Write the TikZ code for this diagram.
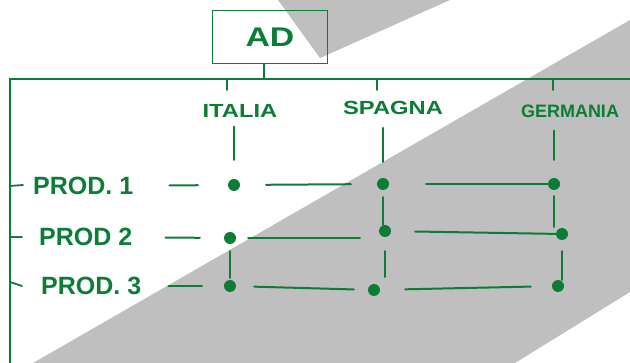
\documentclass[tikz,border=0pt]{standalone}
\usepackage{fontspec}
\setsansfont{Liberation Sans}
\newfontfamily\handfont[FakeStretch=1.25]{Liberation Sans}
\definecolor{marker}{RGB}{12,125,55}
\definecolor{sheetgray}{RGB}{191,191,191}

\begin{document}
\begin{tikzpicture}[x=1pt,y=-1pt,
   pen/.style={draw=marker,line width=1.8pt,line cap=round},
   link/.style={pen,line width=2pt},
   title/.style={draw=marker,line width=1.6pt,minimum width=115pt,minimum height=53pt,inner sep=0pt,text=marker,font=\handfont\bfseries\fontsize{27}{27}\selectfont},
   country/.style={text=marker,inner sep=1pt,font=\handfont\bfseries\fontsize{19}{19}\selectfont},
   prod/.style={text=marker,inner sep=1pt,anchor=west,font=\sffamily\bfseries\fontsize{25}{25}\selectfont},
   dot/.style={circle,fill=marker,inner sep=0pt,minimum size=12pt}]
\useasboundingbox (0,0) rectangle (630,363);
% shadow on the sheet
\fill[sheetgray] (278,0) -- (450,0) -- (320,58) -- cycle;
\fill[sheetgray] (630,20) -- (630,292) -- (515,363) -- (33,363) -- cycle;
% head box and bar
\node[title] (ad) at (270,37) {AD};
\coordinate (bar) at (10,79);
\coordinate (barend) at (630,79);
\coordinate (base) at (10,363);
\draw[pen,line width=1.6pt] (base) -- (bar) -- (barend);
\draw[pen] ([xshift=-6pt]ad.south) -- ([xshift=-6pt]ad.south |- bar);
\foreach \x in {227,377,553}
  \draw[pen] (\x,79) -- (\x,90);
% countries
\node[country] (it) at (240,111) {ITALIA};
\node[country] (sp) at (393,108) {SPAGNA};
\node[country,font=\sffamily\bfseries\fontsize{18}{18}\selectfont] (ge) at (570,111) {GERMANIA};
% products
\node[prod] (p1) at (32,186) {PROD. 1};
\node[prod] (p2) at (38,237) {PROD 2};
\node[prod] (p3) at (40,286) {PROD. 3};
\draw[pen] (p1 -| bar) -- ++(13,-1);
\draw[pen] (p2 -| bar) -- ++(12,0);
\draw[pen] ([yshift=4pt]p3 -| bar) -- ++(12,4);
% grid of dots
\node[dot] (d11) at (234,185) {};
\node[dot] (d12) at (383,184) {};
\node[dot] (d13) at (554,184) {};
\node[dot] (d21) at (230,238) {};
\node[dot] (d22) at (385,231) {};
\node[dot] (d23) at (562,234) {};
\node[dot] (d31) at (230,286) {};
\node[dot] (d32) at (374,290) {};
\node[dot] (d33) at (558,286) {};
% column strokes
\draw[link,shorten <=8pt,shorten >=19pt] (d11 |- it.south) -- (d11);
\draw[link,shorten <=12pt,shorten >=16pt] (d12 |- sp.south) -- (d12);
\draw[link,shorten <=12pt,shorten >=18pt] (d13 |- ge.south) -- (d13);
% row strokes
\draw[link,shorten <=35pt,shorten >=30pt] (p1) -- (d11);
\draw[link,shorten <=32pt,shorten >=24pt] (p2) -- (d21);
\draw[link,shorten <=26pt,shorten >=22pt] (p3) -- (d31);
\draw[link,shorten <=26pt,shorten >=26pt] (d11) -- (d12);
\draw[link,shorten <=37pt] (d12) -- (d13);
\draw[link,shorten <=12pt,shorten >=25pt] (d21) -- (d21 -| d22);
\draw[link,shorten <=24pt] (d22) -- (d23);
\draw[link,shorten <=18pt,shorten >=14pt] (d31) -- (d32);
\draw[link,shorten <=25pt,shorten >=21pt] (d32) -- (d33);
% vertical dashes
\draw[link,shorten <=7pt,shorten >=6pt] (d12) -- (d12 |- d22);
\draw[link,shorten <=6pt,shorten >=7pt] (d13) -- (d13 |- d23);
\draw[link,shorten <=7pt,shorten >=8pt] (d21) -- (d21 |- d31);
\draw[link,shorten <=14pt,shorten >=13pt] (d22) -- (d22 |- d32);
\draw[link,shorten <=11pt,shorten >=6pt] (d23) -- (d23 |- d33);
\end{tikzpicture}
\end{document}
